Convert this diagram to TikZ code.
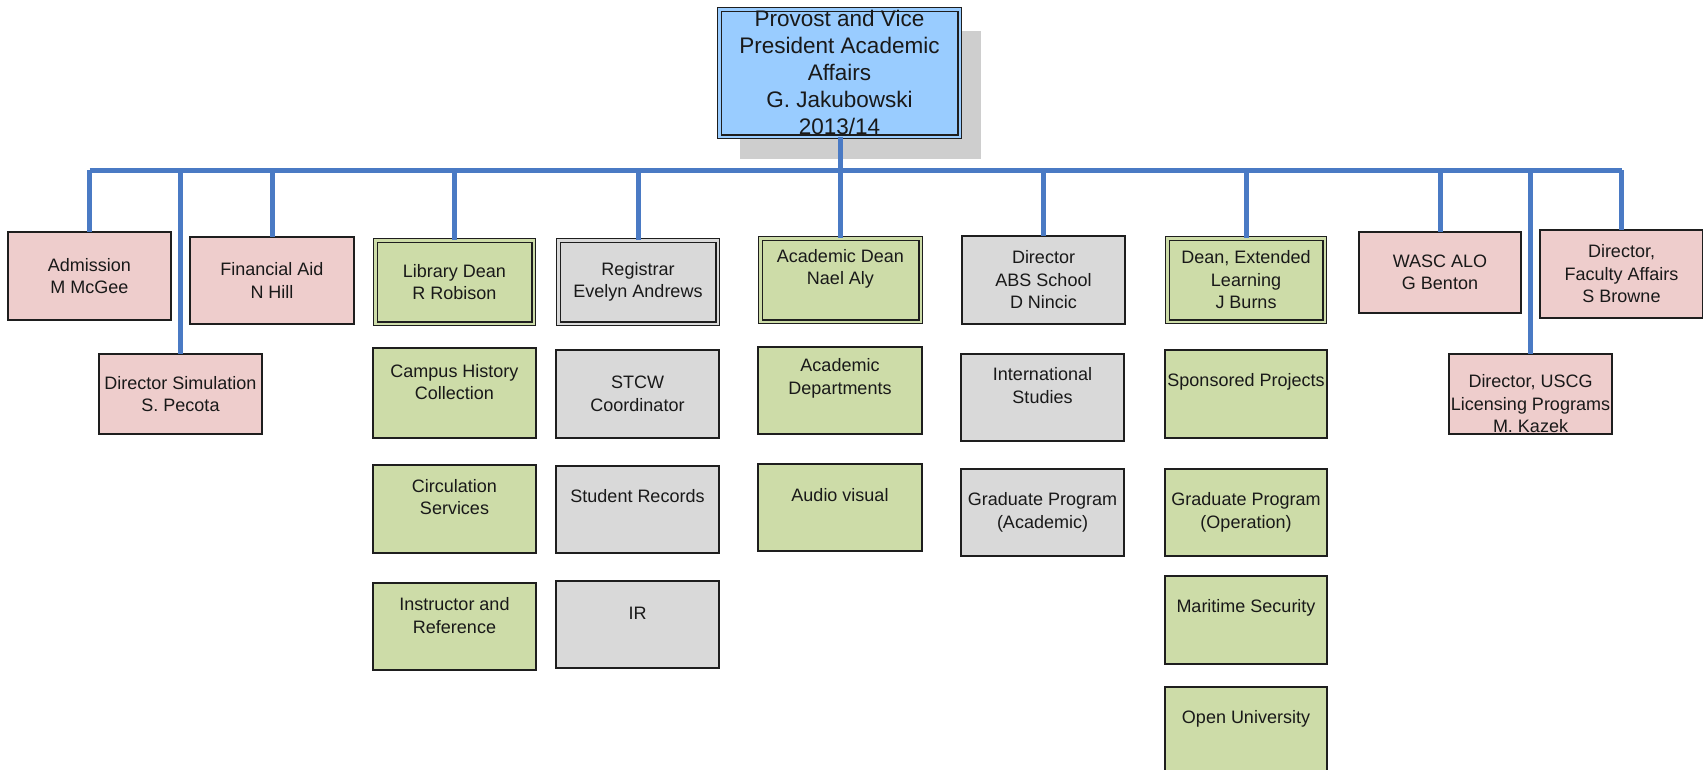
\documentclass[tikz,border=0pt]{standalone}
\usepackage{fontspec}
\setmainfont{Liberation Sans}
\usetikzlibrary{shadows}
\definecolor{pinkf}{RGB}{238,205,204}
\definecolor{greenf}{RGB}{205,220,168}
\definecolor{grayf}{RGB}{217,217,217}
\definecolor{bluef}{RGB}{153,204,255}
\definecolor{shadowc}{RGB}{206,206,206}
\definecolor{busc}{RGB}{74,122,196}
\definecolor{edgec}{RGB}{30,30,30}
\tikzset{
  box/.style={draw=edgec, line width=1.3pt, inner sep=0pt, outer sep=0pt},
  pinkbox/.style={box, fill=pinkf},
  greenbox/.style={box, fill=greenf},
  graybox/.style={box, fill=grayf},
  dbl/.style={line width=1.3pt, double distance=2.2pt},
  greendbl/.style={greenbox, dbl, double=greenf},
  graydbl/.style={graybox, dbl, double=grayf},
  bluedbl/.style={box, fill=bluef, dbl, double=bluef},
  txt/.style={font=\fontsize{18}{22.5}\selectfont, align=center, inner sep=0pt, text=black!90},
  toptxt/.style={font=\fontsize{22.5}{27}\selectfont, align=center, inner sep=0pt, text=black!90},
  bus/.style={draw=busc, line width=5pt},
}
% #1 name, #2 style, #3 x1, #4 y1, #5 x2, #6 y2, #7 text shift up (pt), #8 text
\newcommand\obox[8]{%
  \pgfmathsetmacro\obw{#5-#3}\pgfmathsetmacro\obh{#6-#4}%
  \node[#2, minimum width=\obw pt, minimum height=\obh pt, anchor=north west] (#1) at (#3,#4) {};
  \node[txt] (#1t) at ([yshift=#7pt]#1.center) {#8};}
% double-bordered variant (shrunk so outer edge matches)
\newcommand\dbox[8]{%
  \pgfmathsetmacro\obw{#5-#3-4.8}\pgfmathsetmacro\obh{#6-#4-4.8}%
  \node[#2, minimum width=\obw pt, minimum height=\obh pt, anchor=north west] (#1) at (#3+2.4,#4+2.4) {};
  \node[txt] (#1t) at ([yshift=#7pt]#1.center) {#8};}
\begin{document}
\begin{tikzpicture}[x=1pt,y=-1pt]
\useasboundingbox[fill=white] (0,0) rectangle (1703,769);

% top box
\node[bluedbl, minimum width=240.2pt, minimum height=127.2pt, anchor=north west,
      general shadow={fill=shadowc, shadow xshift=21pt, shadow yshift=-22pt}] (top) at (719.4,9.4) {};
\node[toptxt] (topt) at ([yshift=1pt]top.center) {Provost and Vice\\President Academic\\Affairs\\G. Jakubowski\\2013/14};

% first row
\obox{adm}{pinkbox}{8}{232}{171}{320}{0}{Admission\\M McGee}
\obox{fin}{pinkbox}{190}{237}{354}{324}{0}{Financial Aid\\N Hill}
\obox{sim}{pinkbox}{99}{354}{262}{434}{0}{Director Simulation\\S. Pecota}
\dbox{lib}{greendbl}{373}{238}{536}{326}{0}{Library Dean\\R Robison}
\dbox{reg}{graydbl}{556}{238}{720}{326}{0}{Registrar\\Evelyn Andrews}
\dbox{acd}{greendbl}{758}{236}{923}{324}{11}{Academic Dean\\Nael Aly}
\obox{abs}{graybox}{962}{236}{1125}{324}{0}{Director\\ABS School\\D Nincic}
\dbox{ext}{greendbl}{1165}{236}{1327}{324}{0}{Dean, Extended\\Learning\\J Burns}
\obox{wasc}{pinkbox}{1359}{232}{1521}{313}{0}{WASC ALO\\G Benton}
\obox{fac}{pinkbox}{1540}{230}{1703}{318}{0}{Director,\\Faculty Affairs\\S Browne}
\obox{uscg}{pinkbox}{1449}{354}{1612}{434}{-10}{Director, USCG\\Licensing Programs\\M. Kazek}

% library column
\obox{chc}{greenbox}{373}{348}{536}{438}{11}{Campus History\\Collection}
\obox{circ}{greenbox}{373}{465}{536}{553}{12}{Circulation\\Services}
\obox{inst}{greenbox}{373}{583}{536}{670}{11}{Instructor and\\Reference}
% registrar column
\obox{stcw}{graybox}{556}{350}{719}{438}{0}{STCW\\Coordinator}
\obox{srec}{graybox}{556}{466}{719}{553}{13}{Student Records}
\obox{ir}{graybox}{556}{581}{719}{668}{11}{IR}
% academic column
\obox{adep}{greenbox}{758}{347}{922}{434}{12}{Academic\\Departments}
\obox{av}{greenbox}{758}{464}{922}{551}{12}{Audio visual}
% ABS column
\obox{intl}{graybox}{961}{354}{1124}{441}{12}{International\\Studies}
\obox{gpa}{graybox}{961}{469}{1124}{556}{0}{Graduate Program\\(Academic)}
% extended learning column
\obox{spon}{greenbox}{1165}{350}{1327}{438}{12}{Sponsored Projects}
\obox{gpo}{greenbox}{1165}{469}{1327}{556}{0}{Graduate Program\\(Operation)}
\obox{mar}{greenbox}{1165}{576}{1327}{664}{12}{Maritime Security}
\obox{open}{greenbox}{1165}{687}{1327}{774}{12}{Open University}

% connectors
\coordinate (busy) at (0,170);
\draw[bus] (adm.north |- busy) -- (fac.north |- busy);
\draw[bus] (acd.north |- top.south) -- (acd.north);
\foreach \n in {adm,fin,sim,lib,reg,abs,ext,wasc,fac,uscg}
  \draw[bus] (\n.north |- busy) -- (\n.north);
\end{tikzpicture}
\end{document}
